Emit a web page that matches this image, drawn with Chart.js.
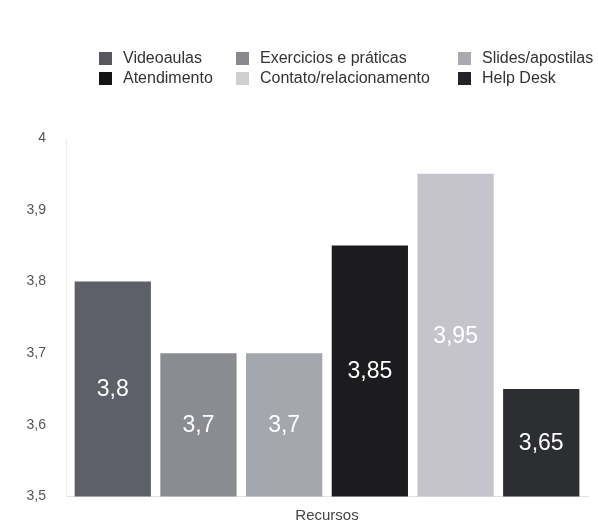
<!DOCTYPE html>
<html>
<head>
<meta charset="utf-8">
<script src="https://cdn.jsdelivr.net/npm/chart.js@4"></script>
<style>
  html, body { margin: 0; padding: 0; background: #fff; }
  #wrap { position: relative; width: 598px; height: 525px; overflow: hidden; }
  #legend {
    position: absolute; left: 99px; top: 51px;
    display: grid; grid-template-columns: 137px 222px auto;
    row-gap: 6px;
    font-family: "Liberation Sans", Arial, sans-serif; font-size: 16px; color: #333;
    white-space: nowrap;
  }
  #legend .item { display: flex; align-items: center; height: 14px; }
  #legend .box { width: 13px; height: 13px; margin-right: 11px; flex: none; }
</style>
</head>
<body>
<div id="wrap">
  <canvas id="c" width="598" height="525"></canvas>
  <div id="legend"></div>
</div>
<script>
// Category on the x axis
const categories = ['Recursos'];
// One series per resource type
const seriesNames = ['Videoaulas', 'Exercicios e práticas', 'Slides/apostilas', 'Atendimento', 'Contato/relacionamento', 'Help Desk'];
const seriesValues = [3.8, 3.7, 3.7, 3.85, 3.95, 3.65];
const seriesColors = ['#5d6068', '#8b8c92', '#a5a7ae', '#1c1c1e', '#c5c4cd', '#2d2e31'];
const legendColors = ['#57595f', '#88898e', '#a9aaae', '#141414', '#cfcfd2', '#222326'];
// Y axis tick labels, bottom to top
const yTickLabels = ['3,5', '3,6', '3,7', '3,8', '3,9', '4'];

const fmt = v => String(v).replace('.', ',');

// White value label centred inside each bar
const barValueLabels = {
  id: 'barValueLabels',
  afterDraw(chart) {
    const ctx = chart.ctx;
    const yScale = chart.scales.y;
    const basePx = yScale.getPixelForValue(yScale.min);
    ctx.save();
    ctx.font = '23px "Liberation Sans", Arial, sans-serif';
    ctx.fillStyle = '#ffffff';
    ctx.textAlign = 'center';
    ctx.textBaseline = 'middle';
    chart.data.datasets.forEach((ds, i) => {
      const meta = chart.getDatasetMeta(i);
      meta.data.forEach((bar, j) => {
        const v = ds.data[j];
        const topPx = yScale.getPixelForValue(v);
        const p = bar.getProps(['x'], true);
        ctx.fillText(fmt(v), p.x, (topPx + basePx) / 2 + 1);
      });
    });
    ctx.restore();
  }
};

const chart = new Chart(document.getElementById('c'), {
  type: 'bar',
  data: {
    labels: categories,
    datasets: seriesNames.map((name, i) => ({
      label: name,
      data: [seriesValues[i]],
      backgroundColor: seriesColors[i],
      borderWidth: 0,
      categoryPercentage: 0.985,
      barPercentage: 0.89
    }))
  },
  options: {
    responsive: false,
    animation: false,
    layout: { padding: { top: 138, right: 10, left: 0, bottom: 0 } },
    plugins: { legend: { display: false }, tooltip: { enabled: false } },
    scales: {
      x: {
        grid: { display: false, drawTicks: false },
        border: { display: true, color: '#e2e2e2', width: 1 },
        ticks: {
          padding: 10,
          color: '#444',
          font: { family: '"Liberation Sans", Arial, sans-serif', size: 15 }
        },
        afterFit(scale) { scale.height = 24; }
      },
      y: {
        min: 3.5,
        max: 4,
        grid: { display: false, drawTicks: false },
        border: { display: true, color: '#ececec', width: 1 },
        ticks: {
          stepSize: 0.1,
          padding: 20,
          color: '#555',
          font: { family: '"Liberation Sans", Arial, sans-serif', size: 14 },
          callback: (v, idx) => yTickLabels[idx]
        },
        afterFit(scale) { scale.width = 66; }
      }
    }
  },
  plugins: [barValueLabels]
});

// Legend laid out in three aligned columns
const legendEl = document.getElementById('legend');
seriesNames.forEach((name, i) => {
  const item = document.createElement('div');
  item.className = 'item';
  const box = document.createElement('span');
  box.className = 'box';
  box.style.background = legendColors[i];
  const txt = document.createElement('span');
  txt.textContent = name;
  item.appendChild(box);
  item.appendChild(txt);
  legendEl.appendChild(item);
});
</script>
</body>
</html>
